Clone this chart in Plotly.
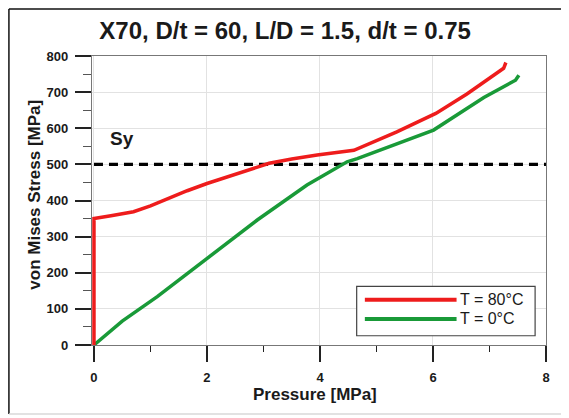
import plotly.graph_objects as go

# Data
red_x = [0, 0, 0.3, 0.7, 1.0, 1.3, 1.65, 2.0, 2.5, 2.9, 3.1, 3.5, 3.95, 4.6, 5.36, 6.05, 6.6, 7.15, 7.25, 7.29]
red_y = [0, 350, 358, 369, 385, 405, 427, 447, 473, 495, 503, 515, 526, 539, 590, 641, 695, 755, 766, 782]
green_x = [0, 0.5, 1.12, 2.0, 2.89, 3.77, 4.48, 4.66, 5.42, 6.01, 6.9, 7.46, 7.52]
green_y = [0, 66, 134, 240, 346, 443, 507, 516, 561, 595, 685, 733, 747]
sy_value = 500
x_range = [-0.035, 8]
y_range = [0, 800]
legend_names = ["T = 80°C", "T = 0°C"]
title_text = "X70, D/t = 60, L/D = 1.5, d/t = 0.75"
x_title = "Pressure [MPa]"
y_title = "von Mises Stress [MPa]"

RED = "#ee1c1c"
GREEN = "#199a38"
FONT = "Liberation Sans, Arial, sans-serif"
TXT = "#1a1a1a"

fig = go.Figure()
fig.add_trace(go.Scatter(x=[0, 8], y=[sy_value, sy_value], mode="lines",
                         line=dict(color="black", width=3.2, dash="9px,6px"),
                         showlegend=False, hoverinfo="skip"))
fig.add_trace(go.Scatter(x=green_x, y=green_y, mode="lines", name=legend_names[1],
                         line=dict(color=GREEN, width=3.5),
                         showlegend=False))
fig.add_trace(go.Scatter(x=red_x, y=red_y, mode="lines", name=legend_names[0],
                         line=dict(color=RED, width=3.5),
                         showlegend=False))

axis_common = dict(showline=True, linecolor="#777", linewidth=1.2, mirror=True,
                   showgrid=True, gridcolor="#e2e2e2", gridwidth=1,
                   ticks="outside", tickcolor="#222", tickwidth=1.6,
                   ticklabelstandoff=4,
                   tickfont=dict(family=FONT, size=13, color=TXT, weight="bold"),
                   zeroline=False)

fig.update_layout(
    width=569, height=418,
    margin=dict(l=84, r=31, t=48, b=81),
    paper_bgcolor="white", plot_bgcolor="white",
    font=dict(family=FONT, color=TXT),
    title=dict(text=title_text, xref="container", x=0.487, xanchor="center",
               yref="container", y=0.945, yanchor="middle",
               font=dict(family=FONT, size=24, color=TXT, weight="bold")),
    xaxis=dict(range=x_range, tick0=0, dtick=2, ticklen=16,
               minor=dict(tick0=0, dtick=1, ticklen=6, tickcolor="#222", tickwidth=1.2, showgrid=False),
               **axis_common),
    yaxis=dict(range=y_range, dtick=100, ticklen=16,
               minor=dict(dtick=50, ticklen=8, tickcolor="#555", tickwidth=1.2, showgrid=False),
               **axis_common),
    showlegend=False,
)

# axis titles
fig.add_annotation(x=0.491, y=-0.173, xref="paper", yref="paper", text="<b>" + x_title + "</b>",
                   showarrow=False, xanchor="center", yanchor="middle",
                   font=dict(family=FONT, size=17, color=TXT))
fig.add_annotation(x=-0.1256, y=0.52, xref="paper", yref="paper", text="<b>" + y_title + "</b>",
                   showarrow=False, xanchor="center", yanchor="middle", textangle=-90,
                   font=dict(family=FONT, size=17, color=TXT))

# "Sy" label
fig.add_annotation(x=0.25, y=573, xref="x", yref="y", text="<b>Sy</b>", showarrow=False,
                   xanchor="left", yanchor="middle",
                   font=dict(family=FONT, size=19, color=TXT))

# Custom legend (box, sample lines, labels) in plot-area coordinates
shapes = [
    dict(type="rect", xref="paper", yref="paper", x0=0.583, x1=0.976, y0=0.032, y1=0.203,
         line=dict(color="#444", width=1.2), fillcolor="white", layer="above"),
    dict(type="line", xref="paper", yref="paper", x0=0.601, x1=0.803, y0=0.157, y1=0.157,
         line=dict(color=RED, width=4), layer="above"),
    dict(type="line", xref="paper", yref="paper", x0=0.601, x1=0.803, y0=0.090, y1=0.090,
         line=dict(color=GREEN, width=4), layer="above"),
    # outer frame of the picture
    dict(type="line", xref="paper", yref="paper", x0=-0.183, x1=-0.183, y0=-0.239, y1=1.163,
         line=dict(color="#111", width=1.5)),
    dict(type="line", xref="paper", yref="paper", x0=-0.183, x1=1.1, y0=1.163, y1=1.163,
         line=dict(color="#111", width=1.5)),
    dict(type="line", xref="paper", yref="paper", x0=-0.183, x1=1.1, y0=-0.239, y1=-0.239,
         line=dict(color="#d8d8d8", width=1.5)),
]
fig.update_layout(shapes=shapes)
for name, yy in zip(legend_names, [0.157, 0.090]):
    fig.add_annotation(x=0.806, y=yy, xref="paper", yref="paper", text=name, showarrow=False,
                       xanchor="left", yanchor="middle",
                       font=dict(family=FONT, size=16, color=TXT))

fig.write_html("out.html")
